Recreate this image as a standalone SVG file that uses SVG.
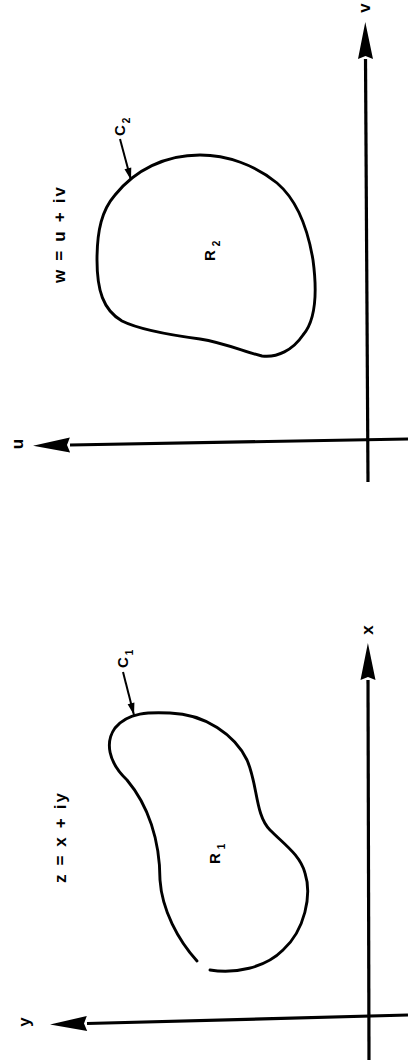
<svg xmlns="http://www.w3.org/2000/svg" width="408" height="1062" viewBox="0 0 408 1062">
  <style>
    .axis { fill: none; stroke: #000; stroke-width: 3.2; stroke-linecap: butt; }
    .curve { fill: none; stroke: #000; stroke-width: 2.9; stroke-linejoin: round; stroke-linecap: round; }
    .lead { fill: none; stroke: #000; stroke-width: 2; }
    .lbl { font-family: "Liberation Sans", Arial, sans-serif; font-weight: bold; fill: #000; }
    .big { font-size: 17px; }
    .mid { font-size: 15px; }
    .sub { font-size: 10px; }
  </style>
  <defs>
    <marker id="axisHead" markerUnits="userSpaceOnUse" markerWidth="40" markerHeight="16" refX="0" refY="7.5" orient="auto" overflow="visible">
      <path d="M0,0 L37,7.5 L0,15 L3,7.5 Z" fill="#000"/>
    </marker>
    <marker id="leadHead" markerUnits="userSpaceOnUse" markerWidth="14" markerHeight="8" refX="12" refY="3.5" orient="auto" overflow="visible">
      <path d="M0,0 L12,3.5 L0,7 Z" fill="#000"/>
    </marker>
  </defs>
  <rect width="408" height="1062" fill="#fff"/>

  <!-- w-plane (top) -->
  <g id="w-plane-axes">
    <line class="axis" x1="368" y1="482" x2="365.5" y2="59" marker-end="url(#axisHead)"/>
    <line class="axis" x1="408" y1="439" x2="70" y2="445" marker-end="url(#axisHead)"/>
    <text class="lbl big" transform="translate(370,8) rotate(-90)" text-anchor="middle">v</text>
    <text class="lbl big" transform="translate(23,444) rotate(-90)" text-anchor="middle">u</text>
    <text class="lbl big" transform="translate(65,283) rotate(-90)" textLength="96" lengthAdjust="spacing">w = u + iv</text>
  </g>
  <g id="R2">
    <path class="curve" d="M200,155 C227,155 255,165 277,183 C297,200 308,230 313,260 C317,290 316,320 303,335 C293,350 277,358 262,356 C245,352 225,343 200,339 C170,335 140,330 122,321 C103,310 97,290 97,260 C97,230 102,210 115,195 C135,170 165,155 200,155 Z"/>
    <text class="lbl mid" transform="translate(215,261) rotate(-90)">R<tspan class="sub" dx="4" dy="5">2</tspan></text>
  </g>
  <g id="C2-label">
    <text class="lbl mid" transform="translate(125,136) rotate(-90)">C<tspan class="sub" dx="2" dy="5">2</tspan></text>
  </g>

  <!-- z-plane (bottom) -->
  <g id="z-plane-axes">
    <line class="axis" x1="369" y1="1060" x2="368" y2="680" marker-end="url(#axisHead)"/>
    <line class="axis" x1="408" y1="1015" x2="87" y2="1023.5" marker-end="url(#axisHead)"/>
    <text class="lbl big" transform="translate(373,630) rotate(-90)" text-anchor="middle">x</text>
    <text class="lbl big" transform="translate(30,1022) rotate(-90)" text-anchor="middle">y</text>
    <text class="lbl big" transform="translate(66,883) rotate(-90)" textLength="90" lengthAdjust="spacing">z = x + iy</text>
  </g>
  <g id="R1">
    <path class="curve" d="M197,961 C178,940 162,910 160,880 C160,840 148,805 127,780 C108,762 105,742 115,728 C128,712 150,712 170,713 C205,714 235,735 247,760 C258,785 255,815 270,830 C285,845 300,855 305,873 C312,895 305,930 283,950 C265,968 235,974 210,970"/>
    <text class="lbl mid" transform="translate(220,864) rotate(-90)">R<tspan class="sub" dx="4" dy="5">1</tspan></text>
  </g>
  <g id="C1-label">
    <text class="lbl mid" transform="translate(128,668) rotate(-90)">C<tspan class="sub" dx="2" dy="5">1</tspan></text>
  </g>

  <!-- connectors: label leaders -->
  <g id="connectors">
    <line class="lead" x1="120" y1="139" x2="131" y2="180" marker-end="url(#leadHead)"/>
    <line class="lead" x1="123" y1="672" x2="134" y2="715" marker-end="url(#leadHead)"/>
  </g>
</svg>
